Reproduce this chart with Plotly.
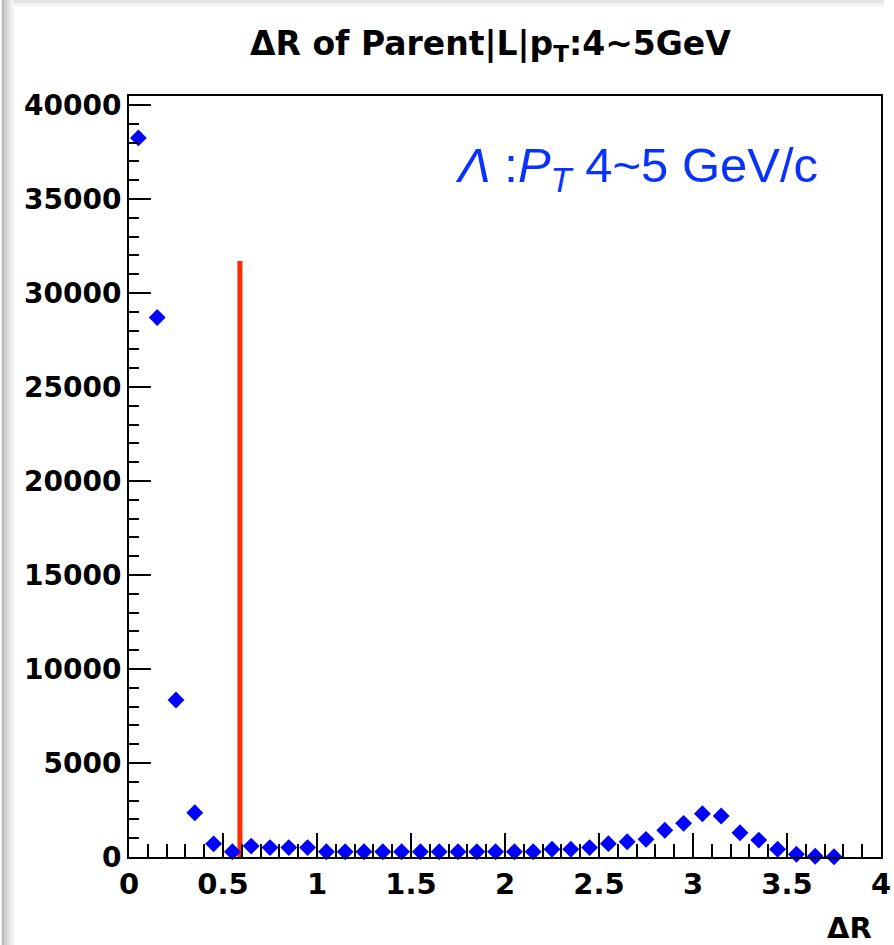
import plotly.graph_objects as go

# Bin centres (ΔR) and counts
bin_centers = [0.05, 0.15, 0.25, 0.35, 0.45, 0.55, 0.65, 0.75, 0.85, 0.95,
               1.05, 1.15, 1.25, 1.35, 1.45, 1.55, 1.65, 1.75, 1.85, 1.95,
               2.05, 2.15, 2.25, 2.35, 2.45, 2.55, 2.65, 2.75, 2.85, 2.95,
               3.05, 3.15, 3.25, 3.35, 3.45, 3.55, 3.65, 3.75]
counts = [38250, 28700, 8350, 2350, 700, 280, 580, 500, 500, 500,
          280, 280, 280, 280, 280, 280, 280, 280, 280, 280,
          280, 280, 410, 410, 500, 710, 815, 940, 1420, 1790,
          2300, 2180, 1290, 900, 410, 150, 40, 10]

cut_x = [0.59, 0.59]
cut_y = [0, 31700]

x_ticks = [0, 0.5, 1, 1.5, 2, 2.5, 3, 3.5, 4]
x_tick_labels = ["0", "0.5", "1", "1.5", "2", "2.5", "3", "3.5", "4"]
y_ticks = [0, 5000, 10000, 15000, 20000, 25000, 30000, 35000, 40000]
y_tick_labels = ["0", "5000", "10000", "15000", "20000", "25000", "30000", "35000", "40000"]

title_text = "ΔR of Parent|L|p<sub>T</sub>:4~5GeV"
label_text = "<i>Λ</i> :<i>P<sub>T</sub></i> 4~5 GeV/c"
x_title = "ΔR"

W, H = 894, 945
L, R, T, B = 129, 891, 96, 857


def px(x):
    return (x - L) / (R - L)


def py(y):
    return (B - y) / (B - T)


fig = go.Figure()

fig.add_trace(go.Scatter(
    x=cut_x, y=cut_y, mode="lines",
    line=dict(color="#ff2a00", width=5),
    showlegend=False, hoverinfo="skip",
))

fig.add_trace(go.Scatter(
    x=bin_centers, y=counts, mode="markers",
    marker=dict(symbol="diamond", size=13, color="#0000ff"),
    showlegend=False, cliponaxis=False,
))

bold = dict(family="DejaVu Sans", color="black", weight="bold")

fig.update_xaxes(
    range=[0, 4], showline=True, linecolor="black", linewidth=2, mirror=True,
    ticks="inside", ticklen=24, tickwidth=1.5, tickcolor="black",
    tickvals=x_ticks, ticktext=x_tick_labels, ticklabeloverflow="allow",
    tickfont=dict(size=29, **bold),
    minor=dict(dtick=0.1, tick0=0, ticks="inside", ticklen=13,
               tickwidth=1.5, tickcolor="black"),
    showgrid=False, zeroline=False,
)
fig.update_yaxes(
    range=[0, 40480], showline=True, linecolor="black", linewidth=2, mirror=True,
    ticks="inside", ticklen=22, tickwidth=1.5, tickcolor="black",
    tickvals=y_ticks, ticktext=y_tick_labels,
    tickfont=dict(size=28, **bold),
    minor=dict(dtick=1000, tick0=0, ticks="inside", ticklen=10,
               tickwidth=1.5, tickcolor="black"),
    showgrid=False, zeroline=False,
)

# light screenshot shadow along the left and top edges
shadow = [(0, 3, "#bcbcbc"), (3, 6, "#cfcfcf"), (6, 9, "#e0e0e0"), (9, 12, "#f0f0f0")]
shapes = []
for a, b, c in shadow:
    shapes.append(dict(type="rect", xref="paper", yref="paper",
                       x0=px(a), x1=px(b), y0=py(H), y1=py(0),
                       fillcolor=c, line=dict(width=0), layer="below"))
for a, b, c in [(0, 3, "#e4e4e4"), (3, 6, "#f1f1f1")]:
    shapes.append(dict(type="rect", xref="paper", yref="paper",
                       x0=px(12), x1=px(W), y0=py(b), y1=py(a),
                       fillcolor=c, line=dict(width=0), layer="below"))

annotations = [
    dict(text=title_text, xref="paper", yref="paper", x=px(495), y=py(45),
         xanchor="center", yanchor="middle", showarrow=False,
         font=dict(size=33, **bold)),
    dict(text=label_text, xref="paper", yref="paper", x=px(457), y=py(168),
         xanchor="left", yanchor="middle", showarrow=False,
         font=dict(family="Liberation Sans, Arial", size=49, color="#0a32ff")),
    dict(text=x_title, xref="paper", yref="paper", x=px(884), y=py(928),
         xanchor="right", yanchor="middle", showarrow=False,
         font=dict(size=29, **bold)),
]

fig.update_layout(
    width=W, height=H,
    margin=dict(l=L, r=W - R, t=T, b=H - B, pad=0),
    paper_bgcolor="white", plot_bgcolor="white",
    shapes=shapes, annotations=annotations,
    showlegend=False,
)

fig.write_html("out.html")
